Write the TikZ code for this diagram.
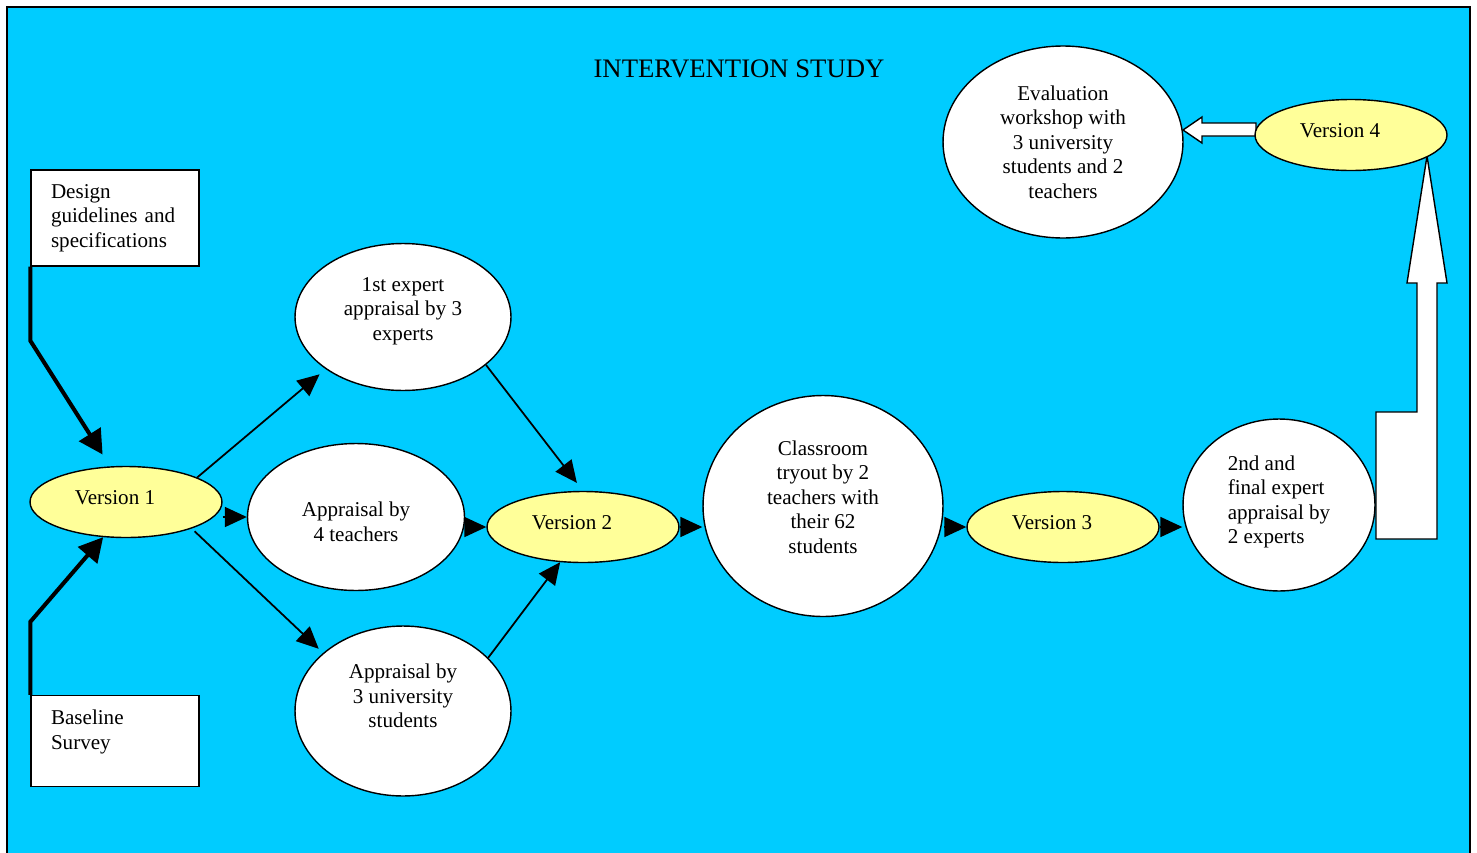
\documentclass[tikz,border=0pt]{standalone}
\usepackage{fontspec}
\setmainfont{Liberation Serif}
\usetikzlibrary{shapes.geometric,arrows.meta}
\definecolor{skyblue}{HTML}{00CCFF}
\definecolor{paleyellow}{HTML}{FFFF99}
\tikzset{
  txt/.style={font=\fontsize{12}{14}\selectfont, align=center, inner sep=0pt},
  stage/.style={shape=ellipse, draw=black, fill=white, line width=0.8pt},
  version/.style={shape=ellipse, draw=black, fill=paleyellow, line width=0.8pt,
    minimum width=3.84cm, minimum height=1.42cm,
    label={[txt,xshift=-0.22cm,yshift=0.08cm]center:#1}},
  inbox/.style={shape=rectangle, draw=black, fill=white, line width=0.8pt, minimum width=3.36cm},
  flow/.style={-{Triangle[length=0.44cm,width=0.4cm]}, line width=1pt},
  feed/.style={-{Triangle[length=0.48cm,width=0.5cm]}, line width=2.3pt},
  block/.style={draw=black, fill=white, line width=0.8pt}
}
\begin{document}
\begin{tikzpicture}[x=0.02cm,y=-0.02cm]
\useasboundingbox (0,0) rectangle (1477,852);
\clip (0,0) rectangle (1477,852);

%background frame and title
\draw [fill=skyblue, line width=1.2pt] (7,7) rectangle (1470,900);
\node [txt, font=\fontsize{15.2}{17}\selectfont] at (739,69) (title) {INTERVENTION STUDY};

%draw input boxes
\node [inbox, minimum height=1.92cm, label={[txt, align=left, text width=2.56cm]center:{Design\\guidelines and\\specifications}}] at (115,218) (design) {};
\node [inbox, minimum height=1.82cm, label={[txt, align=left, text width=2.56cm, yshift=0.18cm]center:{Baseline\\Survey}}] at (115,741) (base) {};

%hollow block arrows (drawn under the ellipses)
\draw [block] (1256,123) -- (1202,123) -- (1202,117) -- (1183,130) -- (1202,143) -- (1202,136) -- (1256,136) -- cycle;
\draw [block] (1376,539) -- (1376,412) -- (1417,412) -- (1417,283) -- (1407,283) -- (1427,156) -- (1447,283) -- (1437,283) -- (1437,539) -- cycle;

%draw versions
\node [version=Version 1] at (126,502) (v1) {};
\node [version=Version 2] at (583,527) (v2) {};
\node [version=Version 3] at (1063,527) (v3) {};
\node [version=Version 4] at (1351,135) (v4) {};

%draw appraisal and tryout stages
\node [stage, minimum width=4.32cm, minimum height=2.94cm, label={[txt,yshift=0.12cm]center:{1st expert\\appraisal by 3\\experts}}] at (403,317) (exp1) {};
\node [stage, minimum width=4.34cm, minimum height=2.94cm, label={[txt,yshift=-0.1cm]center:{Appraisal by\\4 teachers}}] at (356,517) (teach4) {};
\node [stage, minimum width=4.32cm, minimum height=3.4cm, label={[txt,yshift=0.3cm]center:{Appraisal by\\3 university\\students}}] at (403,711) (univ3) {};
\node [stage, minimum width=4.8cm, minimum height=4.42cm, label={[txt,yshift=0.18cm]center:{Classroom\\tryout by 2\\teachers with\\their 62\\students}}] at (823,506) (tryout) {};
\node [stage, minimum width=3.84cm, minimum height=3.44cm, label={[txt,align=left,yshift=0.06cm]center:{2nd and\\final expert\\appraisal by\\2 experts}}] at (1279,505) (exp2) {};
\node [stage, minimum width=4.8cm, minimum height=3.84cm, label={[txt]center:{Evaluation\\workshop with\\3 university\\students and 2\\teachers}}] at (1063,142) (eval) {};

%inputs into version 1
\draw [feed, shorten >=0.28cm] (design.south west) -- ++(0,74) -- (v1.114);
\draw [feed] (base.north west) -- ++(0,-73) -- (v1.237);

%version 1 out to the appraisals
\draw [flow, shorten >=0.16cm] (v1.19) -- (exp1.214);
\draw [flow] (v1.east |- teach4.west) -- (teach4.west);
\draw [flow, shorten <=0.08cm, shorten >=0.12cm] (v1.-22) -- (univ3.144);

%appraisals into version 2
\draw [flow, shorten >=0.2cm] (exp1.-30) -- (v2.north);
\draw [flow] (teach4.east |- v2.west) -- (v2.west);
\draw [flow] (univ3.32) -- (v2.237);

%along the middle row
\draw [flow] (v2.east) -- (tryout.west |- v2.east);
\draw [flow] (tryout.east |- v3.west) -- (v3.west);
\draw [flow] (v3.east) -- (exp2.west |- v3.east);
\end{tikzpicture}
\end{document}
